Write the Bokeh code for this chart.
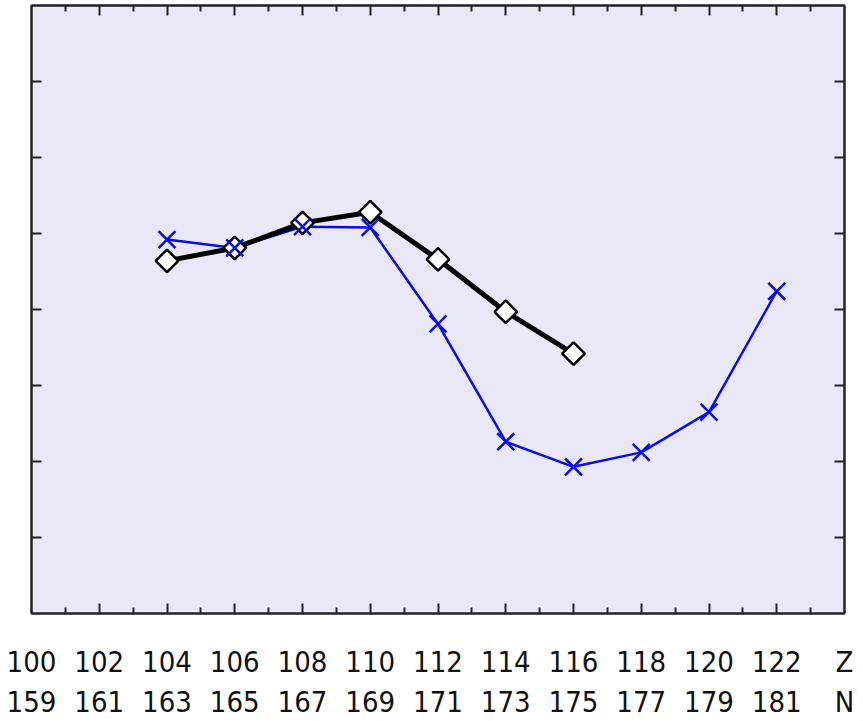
import math
from bokeh.plotting import figure
from bokeh.models import LinearAxis, FixedTicker
from bokeh.embed import file_html
from bokeh.resources import INLINE

# Data (y in arbitrary units; axis carries no value labels)
z_black = [104, 106, 108, 110, 112, 114, 116]
y_black = [4.64, 4.81, 5.14, 5.28, 4.66, 3.97, 3.42]

z_blue = [104, 106, 108, 110, 112, 114, 116, 118, 120, 122]
y_blue = [4.92, 4.81, 5.09, 5.08, 3.81, 2.26, 1.93, 2.12, 2.65, 4.24]

z_ticks = [100, 102, 104, 106, 108, 110, 112, 114, 116, 118, 120, 122, 124]
z_labels = ["100", "102", "104", "106", "108", "110", "112", "114", "116", "118", "120", "122", "Z"]
n_labels = ["159", "161", "163", "165", "167", "169", "171", "173", "175", "177", "179", "181", "N"]

FONT = "DejaVu Sans Condensed, Roboto"

p = figure(width=863, height=721, x_range=(100, 124), y_range=(0, 8),
           output_backend="svg", toolbar_location=None,
           min_border_left=31, min_border_right=19, min_border_top=5, min_border_bottom=0)
p.background_fill_color = "#E8E8F9"
p.border_fill_color = "white"
p.outline_line_color = "#222222"
p.outline_line_width = 2
p.xgrid.visible = False
p.ygrid.visible = False

x_major = list(range(102, 124, 2))
y_major = [1, 2, 3, 4, 5, 6, 7]
major_x = FixedTicker(ticks=x_major, minor_ticks=list(range(101, 124, 2)))
major_y = FixedTicker(ticks=y_major, minor_ticks=[])

def style_frame_axis(ax, ticks):
    ax.major_tick_in = 10
    ax.major_tick_out = 0
    ax.minor_tick_in = 6
    ax.minor_tick_out = 0
    ax.major_tick_line_width = 2
    ax.minor_tick_line_width = 2
    ax.major_tick_line_color = "#222222"
    ax.minor_tick_line_color = "#222222"
    ax.axis_line_color = "#222222"
    ax.axis_line_width = 2
    ax.major_label_overrides = {t: "" for t in ticks}
    ax.major_label_standoff = 0

p.xaxis.ticker = major_x
p.yaxis.ticker = major_y
for ax in p.xaxis:
    style_frame_axis(ax, x_major)
for ax in p.yaxis:
    style_frame_axis(ax, y_major)

top = LinearAxis(ticker=major_x)
style_frame_axis(top, x_major)
p.add_layout(top, "above")
right = LinearAxis(ticker=major_y)
style_frame_axis(right, y_major)
p.add_layout(right, "right")

def label_axis(labels, standoff):
    ax = LinearAxis(ticker=FixedTicker(ticks=z_ticks, minor_ticks=[]))
    ax.major_label_overrides = {t: s for t, s in zip(z_ticks, labels)}
    ax.axis_line_alpha = 0
    ax.major_tick_line_alpha = 0
    ax.major_tick_in = 0
    ax.major_tick_out = 0
    ax.minor_tick_line_alpha = 0
    ax.major_label_standoff = standoff
    ax.major_label_text_font = FONT
    ax.major_label_text_font_size = "29px"
    ax.major_label_text_color = "#111111"
    return ax

p.add_layout(label_axis(z_labels, 31), "below")
p.add_layout(label_axis(n_labels, 3), "below")

blue = "#0A0AE6"
p.line(z_blue, y_blue, line_color=blue, line_width=2.5)
p.line(z_black, y_black, line_color="black", line_width=5)
p.scatter(z_black, y_black, marker="square", size=16, angle=math.pi / 4,
          fill_color="white", line_color="black", line_width=2.5)
p.scatter(z_blue, y_blue, marker="x", size=24, line_color=blue, line_width=2.5)

open("out.html", "w").write(file_html(p, INLINE))
